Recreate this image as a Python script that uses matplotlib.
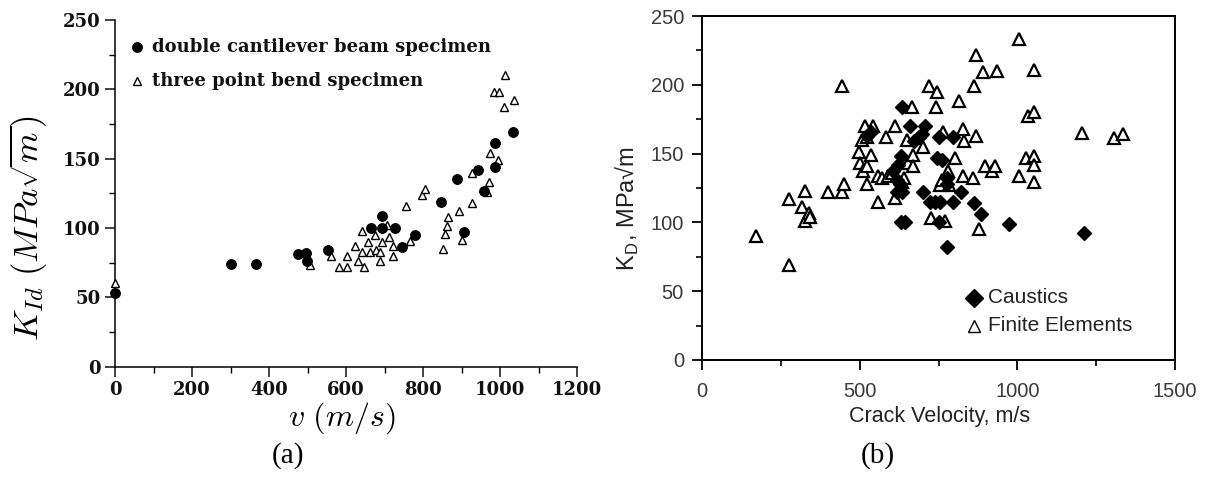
import matplotlib
matplotlib.use("Agg")
import matplotlib.pyplot as plt
from matplotlib.ticker import MultipleLocator

plt.rcParams["mathtext.fontset"] = "cm"

# (a) K_Id against crack speed
dcb_v = [0, 302, 366, 476, 495, 498, 553, 666, 694, 694, 726, 746, 779,
         847, 887, 906, 944, 959, 986, 986, 1034]
dcb_k = [53, 74, 74, 81, 82, 76, 84, 100, 100, 108.5, 100, 86, 95,
         119, 135.5, 97, 142, 127, 161, 144, 169]

tpb_v = [0, 506, 561, 581, 603, 603, 622, 632, 641, 641, 647, 656, 663,
         674, 677, 687, 687, 694, 707, 712, 722, 722, 765, 757, 797, 806,
         853, 856, 861, 866, 893, 901, 926, 928, 966, 971, 974, 995, 984,
         998, 1009, 1012, 1037]
tpb_k = [60, 73, 79.5, 72, 79.5, 72, 87, 76, 98, 82.5, 72, 90, 82.5,
         95, 84, 76, 82.5, 90, 102, 93.5, 79.5, 87, 90.5, 116, 124, 128,
         85, 96, 101.6, 108, 112, 91, 118, 140, 126, 133, 154, 149, 198,
         198, 187, 210, 192]

# (b) K_D against crack velocity
caustics_v = [522, 535, 633, 660, 707, 673, 689, 697, 750, 795, 607, 622,
              631, 746, 760, 617, 628, 617, 633, 702, 776, 776, 723, 739,
              755, 795, 821, 863, 884, 632, 644, 750, 972, 776, 1212]
caustics_k = [163, 166, 184, 170, 170, 159, 162, 164, 162, 162, 137, 142,
              148, 147, 145, 131, 128, 122, 122, 122, 132, 128, 115, 115,
              115, 115, 122, 114, 106, 100, 100, 100, 99, 82, 92]

fem_v = [170, 277, 277, 326, 316, 326, 338, 342, 400, 443, 449, 443,
         498, 500, 510, 508, 516, 522, 522, 535, 542, 522,
         557, 559, 572, 584, 590, 602, 611, 611, 633, 642, 649,
         652, 665, 668, 670, 701, 719, 744, 741, 763, 756, 762, 781, 784,
         801, 814, 828, 830, 828, 858, 862, 869, 869, 891, 898, 920, 930,
         935, 877, 725, 770, 1004, 1005, 1027, 1033, 1054, 1054, 1054,
         1054, 1054, 1204, 1306, 1334]
fem_k = [90, 69, 117, 123, 111, 101, 107, 104, 122, 122, 128, 199,
         151, 143, 137, 160, 170, 128, 141, 149, 170, 162,
         115, 134, 132, 162, 134, 136, 118, 170, 129, 132, 160,
         143, 184, 149, 141, 155, 199, 195, 184, 166, 127, 131, 137, 127,
         147, 188, 168, 159, 134, 132, 199, 222, 163, 209, 141, 137, 141,
         210, 95, 103, 101, 233, 134, 147, 177, 180, 211, 148,
         142, 129, 165, 161, 164]

fig = plt.figure(figsize=(12.07, 4.88), dpi=100)

# ---- left panel ----
ax1 = fig.add_axes([0.0953, 0.2486, 0.3828, 0.7104])
ax1.plot(tpb_v, tpb_k, "^", ms=5.5, mfc="white", mec="black", mew=1.0,
         clip_on=False, zorder=3)
ax1.plot(dcb_v, dcb_k, "o", ms=6.8, color="black", clip_on=False, zorder=4)

ax1.set_xlim(0, 1200)
ax1.set_ylim(0, 250)
ax1.spines["top"].set_visible(False)
ax1.spines["right"].set_visible(False)
for s in ["left", "bottom"]:
    ax1.spines[s].set_linewidth(1.1)
ax1.xaxis.set_major_locator(MultipleLocator(200))
ax1.xaxis.set_minor_locator(MultipleLocator(100))
ax1.yaxis.set_major_locator(MultipleLocator(50))
ax1.yaxis.set_minor_locator(MultipleLocator(25))
ax1.tick_params(which="major", direction="out", length=7, width=1.1,
                labelsize=13, colors="#111111")
ax1.tick_params(which="minor", direction="out", length=4, width=1)
for lab in ax1.get_xticklabels() + ax1.get_yticklabels():
    lab.set_family("DejaVu Serif")
    lab.set_weight("bold")

ax1.set_ylabel(r"$K_{Id}\ (MPa\sqrt{m})$", fontsize=25)
ax1.yaxis.set_label_coords(-0.14, 0.40)
ax1.set_xlabel(r"$v\ (m/s)$", fontsize=23)
ax1.xaxis.set_label_coords(0.49, -0.098)

ax1.plot([0.047], [0.923], "o", ms=6.8, color="black", transform=ax1.transAxes)
ax1.plot([0.047], [0.825], "^", ms=5.5, mfc="white", mec="black", mew=1.0,
         transform=ax1.transAxes)
ax1.text(0.079, 0.923, "double cantilever beam specimen", transform=ax1.transAxes,
         family="DejaVu Serif", weight="bold", fontsize=13, va="center",
         color="#111111")
ax1.text(0.079, 0.825, "three point bend specimen", transform=ax1.transAxes,
         family="DejaVu Serif", weight="bold", fontsize=13, va="center",
         color="#111111")

# ---- right panel ----
ax2 = fig.add_axes([0.5816, 0.2623, 0.3919, 0.7049])
ax2.plot(fem_v, fem_k, "^", ms=8, mfc="white", mec="black", mew=1.6, zorder=3)
ax2.plot(caustics_v, caustics_k, "D", ms=7, color="black", zorder=4)

ax2.set_xlim(0, 1500)
ax2.set_ylim(0, 250)
for s in ax2.spines.values():
    s.set_linewidth(1.4)
ax2.xaxis.set_major_locator(MultipleLocator(500))
ax2.xaxis.set_minor_locator(MultipleLocator(250))
ax2.yaxis.set_major_locator(MultipleLocator(50))
ax2.yaxis.set_minor_locator(MultipleLocator(25))
ax2.tick_params(which="major", direction="out", length=7, width=1.3,
                labelsize=14.5, labelcolor="#3a3a3a", pad=6)
ax2.tick_params(which="minor", direction="out", length=4, width=1.2)
ax2.xaxis.set_tick_params(pad=9)
for lab in ax2.get_xticklabels() + ax2.get_yticklabels():
    lab.set_family("Liberation Sans")

ax2.set_ylabel(r"K$_\mathregular{D}$, MPa√m", fontsize=17,
               family=["Liberation Sans", "DejaVu Sans"], color="#222222")
ax2.yaxis.set_label_coords(-0.128, 0.44)
ax2.set_xlabel("Crack Velocity, m/s", fontsize=15.5, family="Liberation Sans",
               color="#222222")
ax2.xaxis.set_label_coords(0.503, -0.135)

ax2.plot([0.575], [0.181], "D", ms=9, color="black", transform=ax2.transAxes)
ax2.plot([0.575], [0.099], "^", ms=9, mfc="white", mec="black", mew=1,
         transform=ax2.transAxes)
ax2.text(0.605, 0.181, "Caustics", transform=ax2.transAxes,
         family="Liberation Sans", fontsize=15, va="center", color="#222222")
ax2.text(0.605, 0.099, "Finite Elements", transform=ax2.transAxes,
         family="Liberation Sans", fontsize=15, va="center", color="#222222")

fig.text(0.239, 0.066, "(a)", family="Liberation Serif", fontsize=21,
         ha="center", va="center")
fig.text(0.727, 0.066, "(b)", family="Liberation Serif", fontsize=21,
         ha="center", va="center")

fig.savefig("out.png", dpi=100)
